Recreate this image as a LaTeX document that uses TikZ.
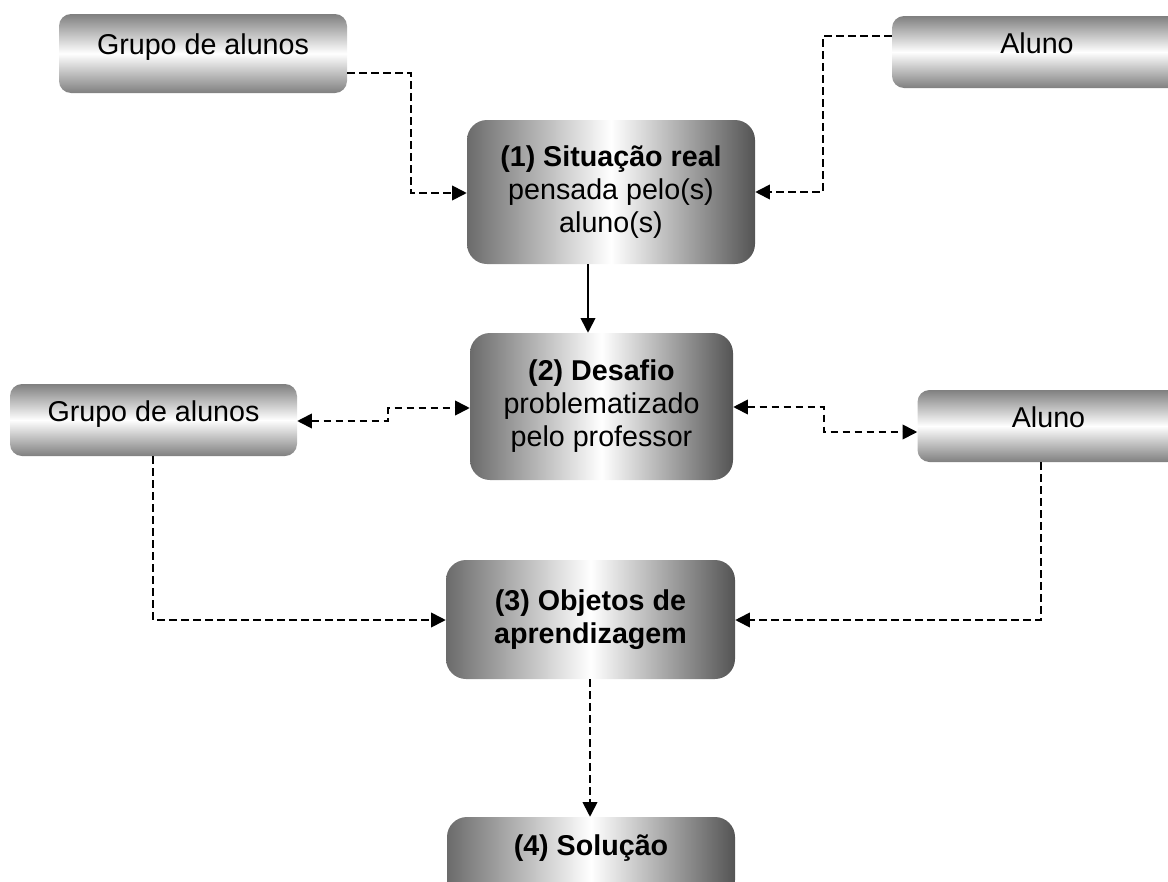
\documentclass[tikz,border=0pt]{standalone}
\usepackage{fontspec}
\setmainfont{Liberation Sans}
\usetikzlibrary{arrows.meta,calc}
\begin{document}
\begin{tikzpicture}[x=0.75pt,y=-0.75pt,
  txt/.style={font=\fontsize{21.5}{24.8}\selectfont},
  sidebox/.style={txt, inner sep=0pt, rounded corners=9pt, shading=axis,
    top color=black!50, bottom color=black!50, middle color=white,
    text height=15pt, text depth=13pt},
  mainbox/.style={txt, inner sep=0pt, align=center, rounded corners=15pt, shading=axis,
    left color=black!58, right color=black!67, middle color=white},
  tip/.style={-{Triangle[length=11pt,width=11pt]}},
  dline/.style={tip, line width=1.3pt, dash pattern=on 5.5pt off 3.5pt},
  dline2/.style={dline, {Triangle[length=11pt,width=11pt]}-{Triangle[length=11pt,width=11pt]}},
  sline/.style={tip, line width=1.3pt}
]
\useasboundingbox (0,0) rectangle (1168,882);
\clip (0,0) rectangle (1168,882);

% nodes
\node[sidebox, minimum width=216pt, minimum height=59.25pt] (g1) at (203,53.5) {Grupo de alunos};
\node[sidebox, minimum width=217.5pt, minimum height=54pt] (a1) at (1037,52) {Aluno};
\node[mainbox, minimum width=216pt, minimum height=108pt] (b1) at (611,192)
  {\textbf{(1) Situação real}\\pensada pelo(s)\\aluno(s)};
\node[mainbox, minimum width=197.25pt, minimum height=110.25pt] (b2) at (601.5,406.5)
  {\textbf{(2) Desafio}\\problematizado\\pelo professor};
\node[sidebox, minimum width=215.25pt, minimum height=54pt] (g2) at (153.5,420) {Grupo de alunos};
\node[sidebox, minimum width=196.5pt, minimum height=54pt] (a2) at (1048.5,426) {Aluno};
\node[mainbox, minimum width=216.75pt, minimum height=89.25pt] (b3) at (590.5,619.5)
  {\textbf{(3) Objetos de}\\\textbf{aprendizagem}};
\node[mainbox, minimum width=216pt, minimum height=62.25pt, text height=13pt, text depth=18.25pt] (b4) at (591,858.5)
  {\textbf{(4) Solução}};

% helper coordinates
\coordinate (p1) at (411,73);
\coordinate (p2) at (411,193);
\coordinate (q1) at (823,36);
\coordinate (q2) at (823,192);
\coordinate (xs) at (588,0);
\coordinate (r1) at (388,421);
\coordinate (r2) at (388,408);
\coordinate (s1) at (824,407);
\coordinate (s2) at (824,432);
\coordinate (t1) at (153,620);
\coordinate (u1) at (1041,620);
\coordinate (xb) at (590,0);

% connectors
\draw[dline] (g1.east |- p1) -- (p1) -- (p2) -- (b1.west |- p2);
\draw[dline] (a1.west |- q1) -- (q1) -- (q2) -- (b1.east |- q2);
\draw[sline] (b1.south -| xs) -- (b2.north -| xs);
\draw[dline2] (g2.east |- r1) -- (r1) -- (r2) -- (b2.west |- r2);
\draw[dline2] (b2.east |- s1) -- (s1) -- (s2) -- (a2.west |- s2);
\draw[dline] (g2.south -| t1) -- (t1) -- (b3.west |- t1);
\draw[dline] (a2.south -| u1) -- (u1) -- (b3.east |- u1);
\draw[dline] (b3.south -| xb) -- (b4.north -| xb);
\end{tikzpicture}
\end{document}
